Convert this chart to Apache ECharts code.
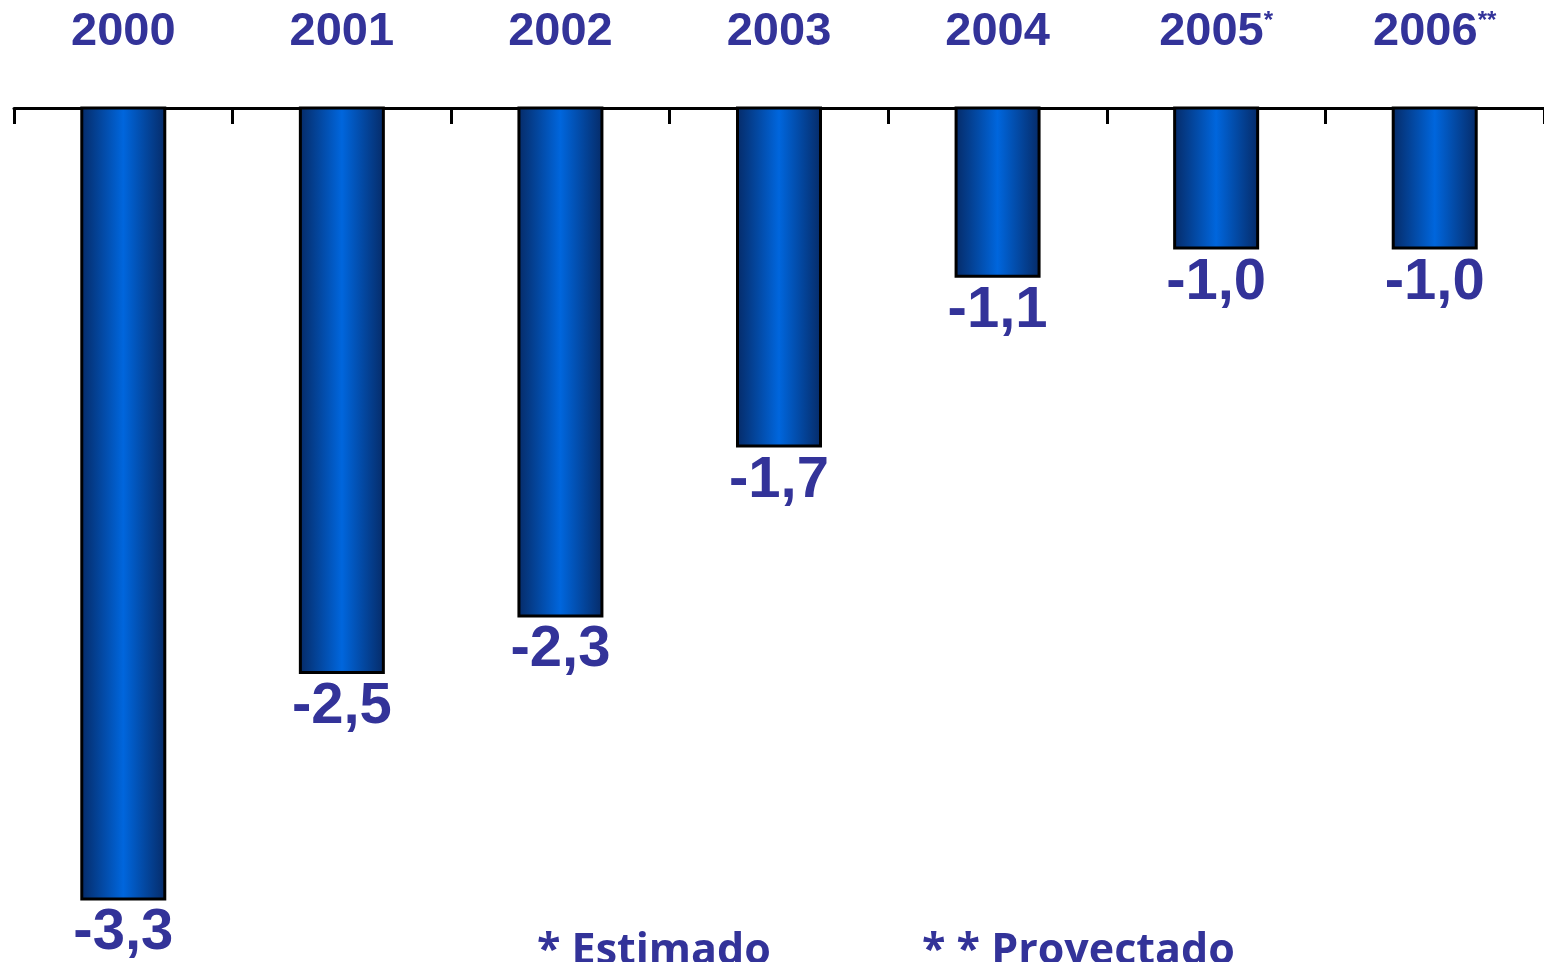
<!DOCTYPE html>
<html>
<head>
<meta charset="utf-8">
<script src="https://cdn.jsdelivr.net/npm/echarts@6/dist/echarts.min.js"></script>
<style>
html, body { margin: 0; padding: 0; background: #fff; }
#chart { width: 1544px; height: 962px; }
</style>
</head>
<body>
<div id="chart"></div>
<script>
var years = ["2000", "2001", "2002", "2003", "2004", "2005", "2006"];
var marks = ["", "", "", "", "", "*", "**"];
var values = [-3.3, -2.5, -2.3, -1.7, -1.1, -1.0, -1.0];
var notes = ["* Estimado", "* * Proyectado"];

var ink = "#333399";
var chart = echarts.init(document.getElementById("chart"));

var barFill = new echarts.graphic.LinearGradient(0, 0, 1, 0, [
  { offset: 0, color: "#062a66" },
  { offset: 0.5, color: "#0066dd" },
  { offset: 1, color: "#062a66" }
]);

chart.setOption({
  animation: false,
  backgroundColor: "#fff",
  grid: { left: 14, right: -9, top: 108, height: 849 },
  xAxis: {
    type: "category",
    position: "top",
    data: years,
    axisLine: { onZero: false, lineStyle: { color: "#000", width: 3 } },
    axisTick: { show: true, inside: true, length: 16, lineStyle: { color: "#000", width: 3 } },
    axisLabel: {
      margin: 52,
      formatter: function (v, i) {
        return marks[i] ? "{y|" + v + "}{s|" + marks[i] + "}" : "{y|" + v + "}";
      },
      rich: {
        y: { fontFamily: "Liberation Sans, Arial", fontWeight: "bold", fontSize: 47, color: ink },
        s: { fontFamily: "Liberation Sans, Arial", fontWeight: "bold", fontSize: 24, color: ink, verticalAlign: "top", padding: [0, 0, 16, 0] }
      }
    }
  },
  yAxis: {
    type: "value",
    show: false,
    min: -3.5,
    max: -0.5,
    splitLine: { show: false }
  },
  series: [
    {
      type: "bar",
      data: values,
      barWidth: 86,
      clip: true,
      itemStyle: { color: barFill, borderColor: "#000", borderWidth: 3 },
      label: {
        show: true,
        position: "bottom",
        distance: 4,
        fontFamily: "Liberation Sans, Arial",
        fontWeight: "bold",
        fontSize: 58,
        color: ink,
        formatter: function (p) {
          return p.value.toFixed(1).replace(".", ",");
        }
      }
    }
  ],
  graphic: [
    {
      type: "text", left: 537, top: 930,
      style: { text: notes[0], fontFamily: "Open Sans", fontWeight: "bold", fontSize: 43, fill: ink }
    },
    {
      type: "text", left: 922, top: 930,
      style: { text: notes[1], fontFamily: "Open Sans", fontWeight: "bold", fontSize: 43, fill: ink }
    }
  ]
});
</script>
</body>
</html>
